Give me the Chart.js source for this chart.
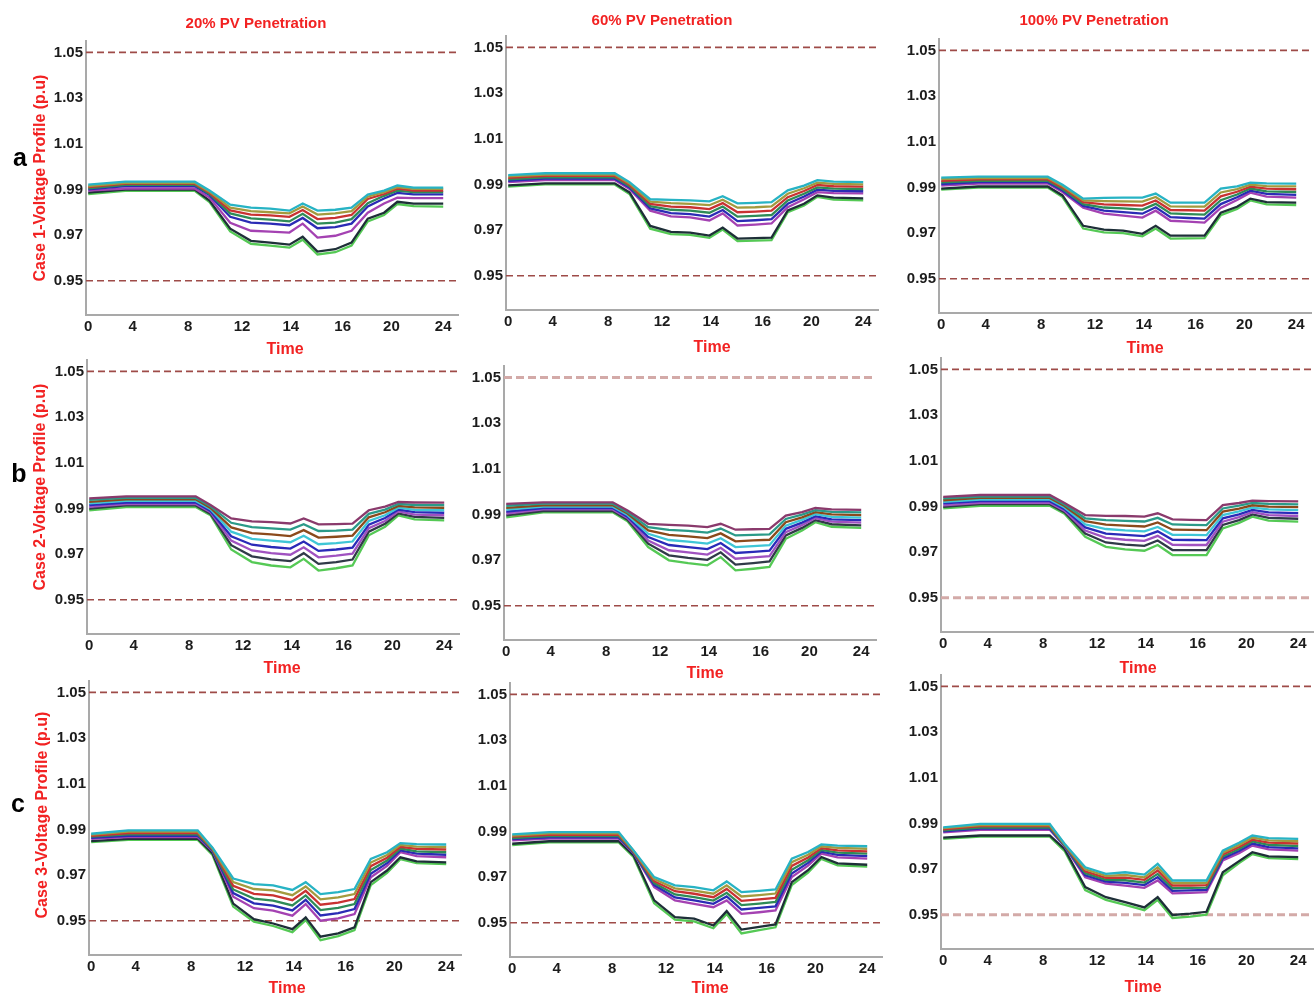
<!DOCTYPE html>
<html>
<head>
<meta charset="utf-8">
<script src="https://cdn.jsdelivr.net/npm/chart.js@4.4.1/dist/chart.umd.min.js"></script>
<style>
  body { margin: 0; background: #fff; width: 1316px; height: 998px; position: relative; overflow: hidden;
         font-family: "Liberation Sans", Arial, sans-serif; }
  canvas { position: absolute; }
  .lbl { position: absolute; transform: translate(-50%, -50%); white-space: nowrap; font-weight: bold; }
  .red { color: #f22222; }
</style>
</head>
<body>
<script>
// x axis: sample positions along the day and the (unevenly placed) tick labels
const tickPos = [0, 3, 6.75, 10.4, 13.7, 17.2, 20.5, 24];
const tickLabels = ["0", "4", "8", "12", "14", "16", "20", "24"];
const timeX = [0, 2.5, 7.2, 8.2, 9.6, 11.0, 12.3, 13.6, 14.5, 15.5, 16.7, 17.8, 18.9, 20.0, 20.9, 22.0, 24];
const yTicks = [0.95, 0.97, 0.99, 1.01, 1.03, 1.05];
const limitX = [-0.15, 25.0];
const upperLimit = 1.05;
const lowerLimit = 0.95;

const penetrations = ["20% PV Penetration", "60% PV Penetration", "100% PV Penetration"];
const caseTitles = ["Case 1-Voltage Profile (p.u)", "Case 2-Voltage Profile (p.u)", "Case 3-Voltage Profile (p.u)"];
const rowLetters = ["a", "b", "c"];

// bus voltages, in 1e-3 p.u., one row per plotted bus
const c1p20 = [
  [992.1, 993.4, 993.4, 989.5, 983.3, 982.0, 981.6, 980.7, 983.8, 980.7, 981.1, 982.0, 987.7, 989.5, 991.7, 990.8, 990.8],
  [991.5, 992.9, 992.9, 989.0, 982.0, 980.5, 980.0, 979.5, 982.5, 979.0, 979.5, 980.5, 986.8, 988.8, 991.0, 990.2, 990.2],
  [991.0, 992.5, 992.5, 988.5, 980.8, 979.0, 978.6, 978.0, 981.0, 977.0, 977.5, 978.8, 985.8, 988.0, 990.3, 989.5, 989.5],
  [990.5, 992.0, 992.0, 988.0, 979.5, 977.3, 976.8, 976.0, 979.3, 975.0, 975.5, 977.0, 984.0, 987.2, 989.5, 988.8, 988.8],
  [990.0, 991.5, 991.5, 987.5, 978.0, 975.5, 975.0, 974.3, 977.5, 973.0, 973.5, 975.0, 982.5, 986.0, 988.5, 987.8, 987.8],
  [989.5, 990.4, 990.4, 986.4, 975.4, 971.9, 971.5, 971.1, 975.0, 968.9, 969.7, 971.9, 979.8, 983.8, 986.4, 986.2, 986.2],
  [988.6, 989.9, 989.9, 985.1, 972.8, 967.5, 966.7, 965.8, 969.3, 962.8, 963.8, 966.7, 977.2, 979.8, 984.6, 983.8, 983.8],
  [988.0, 989.4, 989.4, 984.4, 971.6, 966.2, 965.4, 964.5, 968.0, 961.5, 962.5, 965.4, 976.0, 978.8, 983.6, 982.7, 982.5]
];
const c1p60 = [
  [994.1, 994.9, 994.9, 991.0, 983.5, 983.2, 983.0, 982.6, 984.8, 981.7, 981.9, 982.2, 987.4, 989.5, 991.9, 991.2, 991.0],
  [993.5, 994.3, 994.3, 990.4, 982.5, 981.8, 981.5, 980.9, 983.3, 979.8, 980.0, 980.4, 985.9, 988.3, 990.8, 990.2, 990.0],
  [992.9, 993.7, 993.7, 989.8, 981.5, 980.3, 980.0, 979.2, 981.8, 977.8, 978.1, 978.5, 984.4, 987.1, 989.8, 989.2, 989.0],
  [992.2, 993.1, 993.1, 989.2, 980.5, 978.9, 978.5, 977.6, 980.3, 975.9, 976.2, 976.6, 983.0, 985.9, 988.7, 988.2, 988.0],
  [991.6, 992.5, 992.5, 988.6, 979.5, 977.4, 977.0, 975.9, 978.8, 973.9, 974.3, 974.8, 981.5, 984.7, 987.7, 987.2, 987.0],
  [991.0, 991.9, 991.9, 988.0, 978.5, 976.0, 975.6, 974.2, 977.3, 972.0, 972.4, 972.9, 980.0, 983.5, 986.6, 986.2, 986.1],
  [989.6, 990.5, 990.5, 986.5, 971.8, 969.2, 968.9, 967.6, 971.1, 966.3, 966.5, 966.7, 978.6, 981.5, 985.2, 984.2, 983.9],
  [989.0, 990.0, 990.0, 985.8, 970.6, 968.2, 967.9, 966.6, 970.2, 965.2, 965.4, 965.6, 977.8, 980.8, 984.6, 983.3, 983.0]
];
const c1p100 = [
  [994.3, 994.7, 994.7, 991.2, 985.1, 985.4, 985.5, 985.5, 987.3, 983.3, 983.3, 983.3, 989.5, 990.5, 992.1, 991.8, 991.7],
  [993.6, 994.1, 994.1, 990.6, 984.3, 984.0, 983.9, 983.8, 985.8, 981.7, 981.6, 981.6, 987.8, 989.3, 991.2, 990.6, 990.5],
  [992.9, 993.5, 993.5, 990.0, 983.5, 982.6, 982.3, 982.0, 984.3, 980.1, 980.0, 979.8, 986.1, 988.1, 990.3, 989.5, 989.2],
  [992.2, 992.9, 992.9, 989.3, 982.7, 981.2, 980.8, 980.3, 982.8, 978.6, 978.3, 978.1, 984.4, 986.9, 989.5, 988.3, 988.0],
  [991.5, 992.3, 992.3, 988.6, 981.9, 979.8, 979.2, 978.5, 981.3, 977.0, 976.6, 976.3, 982.7, 985.7, 988.6, 987.2, 986.7],
  [990.8, 991.7, 991.7, 988.0, 981.1, 978.5, 977.6, 976.8, 979.8, 975.4, 975.0, 974.6, 981.0, 984.5, 987.7, 986.0, 985.5],
  [989.5, 990.4, 990.4, 986.5, 973.2, 971.5, 971.1, 969.7, 973.2, 968.9, 968.9, 968.9, 978.9, 981.5, 985.1, 983.6, 983.3],
  [989.0, 989.9, 989.9, 985.8, 972.0, 970.3, 970.0, 968.6, 972.0, 967.6, 967.7, 967.8, 977.8, 980.6, 984.3, 982.6, 982.3]
];
const c2p20 = [
  [994.4, 995.3, 995.3, 991.5, 985.6, 984.3, 984.0, 983.4, 985.6, 983.0, 983.1, 983.3, 989.2, 990.8, 992.8, 992.6, 992.5],
  [993.7, 994.6, 994.6, 990.9, 983.7, 981.8, 981.3, 980.7, 983.1, 980.1, 980.3, 980.7, 987.6, 989.5, 992.0, 991.5, 991.4],
  [992.9, 994.0, 994.0, 990.2, 981.7, 979.2, 978.6, 977.9, 980.5, 977.2, 977.6, 978.1, 986.1, 988.3, 991.1, 990.5, 990.3],
  [992.2, 993.3, 993.3, 989.6, 979.8, 976.7, 975.9, 975.2, 978.0, 974.3, 974.8, 975.5, 984.5, 987.0, 990.3, 989.4, 989.2],
  [991.4, 992.6, 992.6, 988.9, 977.8, 974.1, 973.1, 972.4, 975.5, 971.4, 972.0, 972.8, 982.9, 985.8, 989.5, 988.4, 988.1],
  [990.7, 991.9, 991.9, 988.3, 975.9, 971.6, 970.4, 969.7, 973.0, 968.6, 969.3, 970.2, 981.3, 984.5, 988.7, 987.3, 987.0],
  [989.9, 991.3, 991.3, 987.6, 973.9, 969.0, 967.7, 966.9, 970.4, 965.7, 966.5, 967.6, 979.8, 983.3, 987.8, 986.3, 985.9],
  [989.2, 990.6, 990.6, 987.0, 972.0, 966.5, 965.0, 964.2, 967.9, 962.8, 963.8, 965.0, 978.2, 982.0, 987.0, 985.2, 984.8]
];
const c2p60 = [
  [994.6, 995.3, 995.3, 991.7, 985.9, 985.4, 985.1, 984.4, 985.9, 983.3, 983.5, 983.7, 989.5, 991.0, 992.8, 992.2, 992.0],
  [993.8, 994.7, 994.7, 991.0, 984.4, 983.2, 982.8, 982.0, 983.8, 980.8, 981.0, 981.3, 988.0, 989.9, 991.9, 991.1, 990.9],
  [992.9, 994.0, 994.0, 990.4, 983.0, 981.0, 980.4, 979.6, 981.7, 978.2, 978.6, 978.9, 986.6, 988.7, 991.0, 990.0, 989.7],
  [992.1, 993.4, 993.4, 989.7, 981.5, 978.8, 978.1, 977.2, 979.6, 975.7, 976.1, 976.5, 985.1, 987.6, 990.1, 988.9, 988.6],
  [991.2, 992.8, 992.8, 989.0, 980.1, 976.6, 975.7, 974.8, 977.5, 973.1, 973.6, 974.1, 983.7, 986.4, 989.2, 987.8, 987.5],
  [990.4, 992.2, 992.2, 988.4, 978.6, 974.3, 973.4, 972.4, 975.4, 970.6, 971.2, 971.7, 982.2, 985.3, 988.4, 986.8, 986.4],
  [989.6, 991.5, 991.5, 987.7, 977.2, 972.1, 971.0, 970.1, 973.4, 968.0, 968.7, 969.4, 980.8, 984.1, 987.5, 985.7, 985.2],
  [988.7, 990.9, 990.9, 987.0, 975.7, 969.9, 968.7, 967.7, 971.3, 965.5, 966.2, 967.0, 979.3, 983.0, 986.6, 984.6, 984.1]
];
const c2p100 = [
  [994.2, 995.0, 995.0, 991.5, 986.2, 985.9, 985.8, 985.5, 987.0, 984.3, 984.1, 984.0, 990.6, 991.5, 992.5, 992.3, 992.2],
  [993.5, 994.3, 994.3, 990.8, 984.8, 984.0, 983.7, 983.4, 985.0, 982.1, 981.9, 981.8, 989.1, 990.3, 991.5, 991.1, 990.9],
  [992.7, 993.7, 993.7, 990.2, 983.5, 982.0, 981.6, 981.2, 983.0, 979.8, 979.7, 979.6, 987.7, 989.0, 990.5, 989.9, 989.7],
  [992.0, 993.0, 993.0, 989.5, 982.1, 980.1, 979.5, 979.1, 981.0, 977.6, 977.5, 977.4, 986.2, 987.8, 989.5, 988.7, 988.4],
  [991.3, 992.3, 992.3, 988.8, 980.8, 978.1, 977.5, 977.0, 979.1, 975.4, 975.3, 975.2, 984.8, 986.5, 988.5, 987.4, 987.1],
  [990.5, 991.6, 991.6, 988.1, 979.4, 976.2, 975.4, 974.9, 977.1, 973.2, 973.1, 973.1, 983.3, 985.3, 987.5, 986.2, 985.8],
  [989.8, 991.0, 991.0, 987.5, 978.1, 974.2, 973.3, 972.7, 975.1, 970.9, 970.9, 970.9, 981.9, 984.0, 986.5, 985.0, 984.6],
  [989.1, 990.3, 990.3, 986.8, 976.7, 972.3, 971.2, 970.6, 973.1, 968.7, 968.7, 968.7, 980.4, 982.8, 985.5, 983.8, 983.3]
];
const c3p20 = [
  [988.1, 989.6, 989.6, 982.0, 968.5, 966.0, 965.5, 963.5, 966.9, 961.7, 962.5, 963.9, 977.1, 980.0, 984.0, 983.6, 983.4],
  [987.7, 989.0, 989.0, 981.7, 966.9, 963.9, 963.3, 961.2, 965.0, 959.4, 960.2, 961.7, 975.5, 978.8, 983.2, 982.5, 982.3],
  [987.2, 988.4, 988.4, 981.4, 965.3, 961.8, 961.1, 959.0, 963.1, 957.0, 957.9, 959.5, 973.9, 977.6, 982.4, 981.5, 981.2],
  [986.8, 987.8, 987.8, 981.1, 963.7, 959.7, 958.8, 956.7, 961.1, 954.7, 955.6, 957.3, 972.2, 976.4, 981.6, 980.4, 980.0],
  [986.3, 987.2, 987.2, 980.8, 962.1, 957.6, 956.6, 954.5, 959.2, 952.3, 953.3, 955.1, 970.6, 975.2, 980.8, 979.4, 978.9],
  [985.9, 986.6, 986.6, 980.5, 960.5, 955.5, 954.4, 952.2, 957.3, 950.0, 951.0, 952.9, 969.0, 974.0, 980.0, 978.3, 977.8],
  [984.9, 985.9, 985.9, 979.5, 957.5, 950.7, 948.8, 946.3, 951.5, 943.0, 944.5, 947.1, 966.9, 972.0, 977.8, 976.0, 975.6],
  [984.4, 985.4, 985.4, 978.8, 956.2, 949.6, 947.7, 945.0, 950.3, 941.5, 943.3, 945.9, 965.6, 971.0, 977.0, 975.2, 974.8]
];
const c3p60 = [
  [988.7, 989.7, 989.7, 981.7, 970.0, 966.4, 965.6, 964.2, 968.1, 963.4, 964.0, 964.6, 978.1, 981.0, 984.3, 983.8, 983.5],
  [988.2, 989.1, 989.1, 981.5, 969.1, 965.1, 964.1, 962.7, 966.4, 961.5, 962.1, 962.8, 976.5, 979.8, 983.5, 982.8, 982.4],
  [987.7, 988.5, 988.5, 981.2, 968.2, 963.8, 962.7, 961.2, 964.8, 959.6, 960.2, 960.9, 974.9, 978.6, 982.7, 981.7, 981.3],
  [987.1, 987.9, 987.9, 981.0, 967.4, 962.4, 961.2, 959.7, 963.1, 957.7, 958.4, 959.1, 973.2, 977.4, 981.9, 980.7, 980.3],
  [986.6, 987.4, 987.4, 980.7, 966.5, 961.1, 959.8, 958.3, 961.5, 955.8, 956.5, 957.2, 971.6, 976.2, 981.1, 979.7, 979.2],
  [986.1, 986.8, 986.8, 980.5, 965.6, 959.8, 958.3, 956.8, 959.8, 953.9, 954.6, 955.4, 970.0, 975.0, 980.3, 978.6, 978.1],
  [984.6, 985.7, 985.7, 979.5, 959.8, 952.5, 951.8, 948.8, 955.1, 947.0, 948.2, 949.3, 967.8, 973.0, 978.8, 976.0, 975.4],
  [984.0, 985.2, 985.2, 978.8, 958.5, 951.4, 950.6, 947.6, 953.8, 945.3, 946.8, 948.0, 966.5, 972.0, 978.0, 975.1, 974.6]
];
const c3p100 = [
  [988.3, 989.8, 989.8, 981.1, 970.8, 967.9, 968.6, 967.6, 972.3, 965.0, 965.0, 965.0, 978.1, 981.5, 984.7, 983.6, 983.2],
  [987.9, 989.3, 989.3, 980.9, 969.9, 967.0, 967.4, 966.4, 970.8, 963.9, 963.9, 964.0, 977.2, 980.6, 983.8, 982.6, 982.2],
  [987.4, 988.8, 988.8, 980.7, 969.0, 966.2, 966.3, 965.3, 969.4, 962.8, 962.8, 963.0, 976.4, 979.7, 982.9, 981.6, 981.2],
  [987.0, 988.2, 988.2, 980.4, 968.2, 965.3, 965.1, 964.1, 967.9, 961.6, 961.8, 961.9, 975.5, 978.8, 982.1, 980.6, 980.1],
  [986.5, 987.7, 987.7, 980.2, 967.3, 964.5, 964.0, 963.0, 966.5, 960.5, 960.7, 960.9, 974.7, 977.9, 981.2, 979.6, 979.1],
  [986.1, 987.2, 987.2, 980.0, 966.4, 963.6, 962.8, 961.8, 965.0, 959.4, 959.6, 959.9, 973.8, 977.0, 980.3, 978.6, 978.1],
  [983.8, 984.7, 984.7, 978.8, 962.1, 957.7, 955.5, 953.2, 957.7, 949.9, 950.5, 951.3, 968.6, 973.5, 977.4, 975.6, 975.2],
  [983.2, 984.2, 984.2, 978.0, 960.8, 956.5, 954.3, 952.0, 956.5, 948.6, 949.2, 950.0, 967.3, 972.6, 976.6, 974.8, 974.4]
];

// line colours
const paletteA = ["#27b3c4", "#a39a3e", "#c93232", "#2e8b57", "#2b2bb5", "#a442b2", "#1e2f38", "#55c955"];
const paletteB = ["#8a3a6c", "#2a9a88", "#8b4a1c", "#3fc6d6", "#2a2ab8", "#a052c0", "#303a48", "#55c955"];
const dashDark = { color: "#9e4b48", width: 1.6, dash: [7, 4] };
const dashPale = { color: "#d3aaa8", width: 3, dash: [8, 4] };

// where each panel's plot area sits on the page (left axis x, top of y range)
const panels = [
  { v: c1p20,  axisX: 86,  top: 41,  pal: paletteA, up: dashDark, lo: dashDark },
  { v: c1p60,  axisX: 506, top: 36,  pal: paletteA, up: dashDark, lo: dashDark },
  { v: c1p100, axisX: 939, top: 39,  pal: paletteA, up: dashDark, lo: dashDark },
  { v: c2p20,  axisX: 87,  top: 360, pal: paletteB, up: dashDark, lo: dashDark },
  { v: c2p60,  axisX: 504, top: 366, pal: paletteB, up: dashPale, lo: dashDark },
  { v: c2p100, axisX: 941, top: 358, pal: paletteB, up: dashDark, lo: dashPale },
  { v: c3p20,  axisX: 89,  top: 681, pal: paletteA, up: dashDark, lo: dashDark },
  { v: c3p60,  axisX: 510, top: 683, pal: paletteA, up: dashDark, lo: dashDark },
  { v: c3p100, axisX: 941, top: 675, pal: paletteA, up: dashDark, lo: dashPale }
];

const YW = 80, PT = 12, XH = 50, AREA_W = 372, AREA_H = 274, PR = 6;

Chart.defaults.font.family = '"Liberation Sans", Arial, sans-serif';
Chart.defaults.animation = false;

function limitSet(y, st) {
  return {
    data: limitX.map((x) => ({ x: x, y: y })),
    borderColor: st.color, borderWidth: st.width, borderDash: st.dash,
    pointRadius: 0, fill: false
  };
}

panels.forEach((p) => {
  const canvas = document.createElement("canvas");
  canvas.width = YW + AREA_W + PR;
  canvas.height = PT + AREA_H + XH;
  canvas.style.left = (p.axisX - YW) + "px";
  canvas.style.top = (p.top - PT) + "px";
  document.body.appendChild(canvas);

  const sets = p.v.map((row, i) => ({
    data: row.map((mv, j) => ({ x: timeX[j], y: mv / 1000 })),
    borderColor: p.pal[i], borderWidth: 2.3, pointRadius: 0, fill: false, tension: 0
  }));
  sets.push(limitSet(upperLimit, p.up), limitSet(lowerLimit, p.lo));

  new Chart(canvas, {
    type: "line",
    data: { datasets: sets },
    options: {
      responsive: false,
      layout: { padding: { left: 0, top: PT, right: PR, bottom: 0 } },
      plugins: { legend: { display: false }, tooltip: { enabled: false } },
      scales: {
        x: {
          type: "linear", min: -0.15, max: 25.0,
          afterBuildTicks: (s) => { s.ticks = tickPos.map((v) => ({ value: v })); },
          afterFit: (s) => { s.height = XH; },
          grid: { display: false, drawTicks: false },
          border: { display: true, color: "#a9a9a9", width: 2 },
          ticks: {
            padding: 3, color: "#1c1c1c", maxRotation: 0, autoSkip: false,
            font: { size: 15, weight: "bold" },
            callback: (v, i) => tickLabels[i]
          }
        },
        y: {
          type: "linear", min: 0.935, max: 1.055,
          afterBuildTicks: (s) => { s.ticks = yTicks.map((v) => ({ value: v })); },
          afterFit: (s) => { s.width = YW; },
          grid: { display: false, drawTicks: false },
          border: { display: true, color: "#a9a9a9", width: 2 },
          ticks: {
            padding: 3, color: "#1c1c1c",
            font: { size: 15, weight: "bold" },
            callback: (v) => v.toFixed(2)
          }
        }
      }
    }
  });
});

// page text: column headers, axis names, row letters
function addLabel(text, x, y, size, cls, rotate) {
  const d = document.createElement("div");
  d.className = "lbl " + (cls || "");
  d.textContent = text;
  d.style.left = x + "px";
  d.style.top = y + "px";
  d.style.fontSize = size + "px";
  if (rotate) d.style.transform = "translate(-50%, -50%) rotate(-90deg)";
  document.body.appendChild(d);
}

const headerPos = [[256, 22], [662, 19], [1094, 19]];
penetrations.forEach((t, i) => addLabel(t, headerPos[i][0], headerPos[i][1], 15, "red"));

const timePos = [[285, 349], [712, 347], [1145, 348], [282, 668], [705, 673], [1138, 668], [287, 988], [710, 988], [1143, 987]];
timePos.forEach((q) => addLabel("Time", q[0], q[1], 16, "red"));

const caseTitlePos = [[40, 178], [40, 487], [42, 815]];
caseTitles.forEach((t, i) => addLabel(t, caseTitlePos[i][0], caseTitlePos[i][1], 16, "red", true));

const letterPos = [[20, 157], [19, 473], [18, 803]];
rowLetters.forEach((t, i) => addLabel(t, letterPos[i][0], letterPos[i][1], 25, ""));
</script>
</body>
</html>
